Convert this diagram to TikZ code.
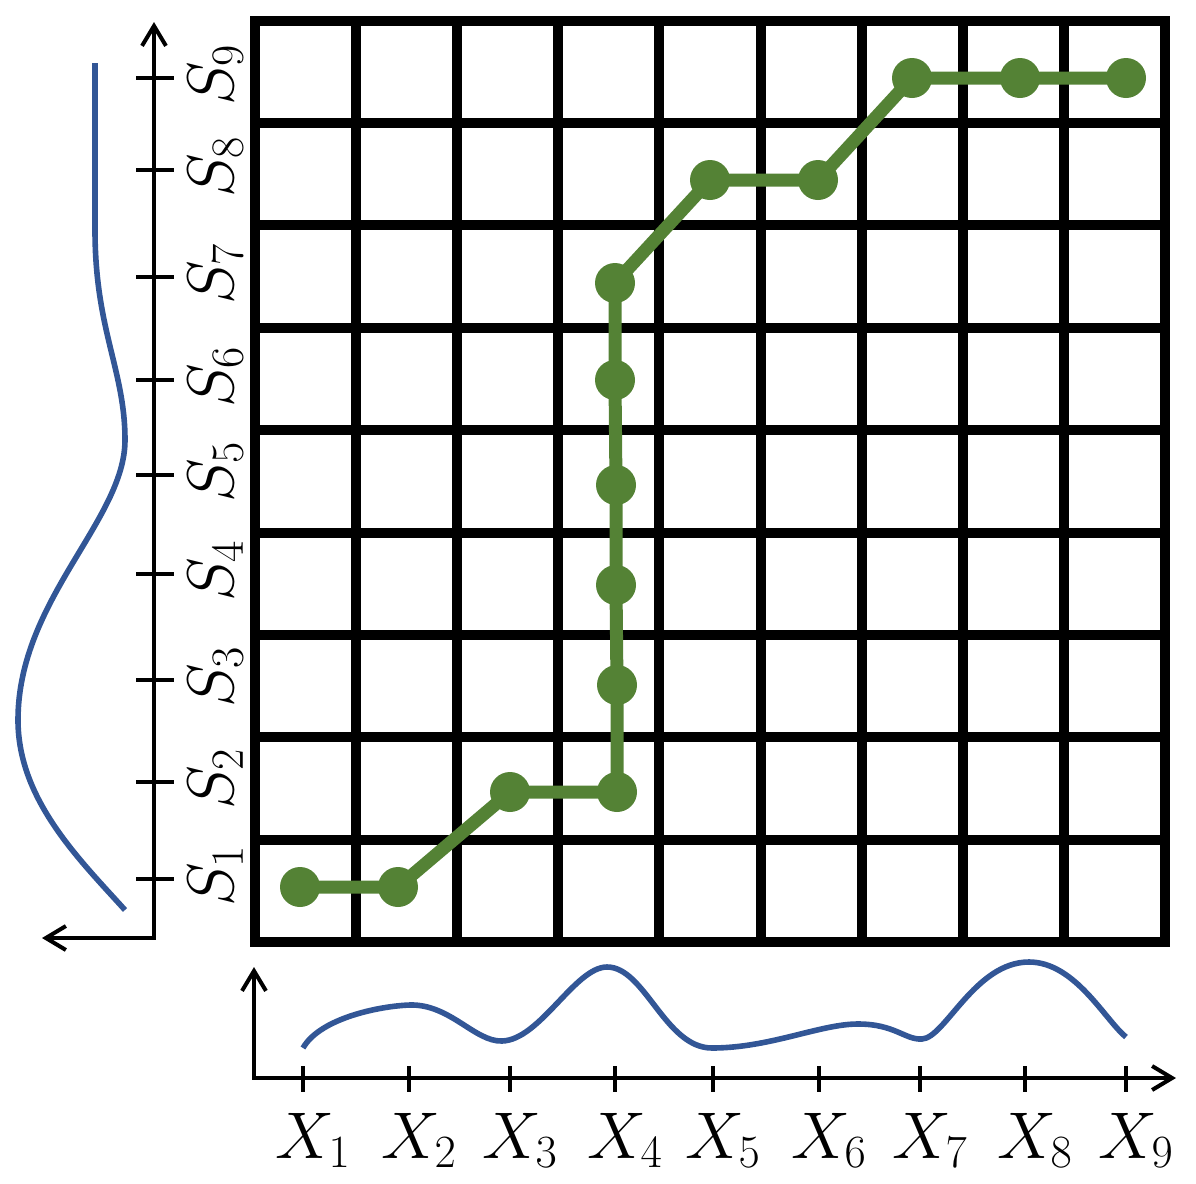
\RequirePackage{fix-cm}
\documentclass[tikz,border=0pt]{standalone}
\usetikzlibrary{arrows.meta}
\definecolor{dotgreen}{RGB}{84,130,53}
\definecolor{curveblue}{RGB}{50,86,150}
\begin{document}
\begin{tikzpicture}[x=0.5pt,y=-0.5pt,
  gridline/.style={line width=5pt},
  axisline/.style={line width=2pt,line join=miter},
  barb/.tip={Straight Barb[length=10pt,width=12pt,line width=2pt]},
  tickline/.style={line width=2pt},
  dot/.style={circle,fill=dotgreen,inner sep=0pt,minimum size=20pt},
  pathline/.style={dotgreen,line width=6.5pt,line join=round},
  density/.style={curveblue,line width=2.8pt},
  lab/.style={font=\fontsize{33}{40}\selectfont,inner sep=0pt,anchor=base}]
\useasboundingbox (0,0) rectangle (1196,1184);
% grid
\foreach \i in {1,...,8} {
  \draw[gridline] ({255+\i*101.1},20.5) -- ({255+\i*101.1},942);
  \draw[gridline] (255,{20.5+\i*102.4}) -- (1165,{20.5+\i*102.4});
}
\draw[gridline,line join=miter] (255,20.5) rectangle (1165,942);
% left axis
\coordinate (yo) at (154,938);
\coordinate (ytop) at (154,22);
\coordinate (yleft) at (42,938);
\draw[axisline,barb-barb] (yleft) -- (yo) -- (ytop);
\foreach \y/\n in {879/1,782/2,680/3,574/4,475/5,380/6,277/7,170/8,78/9} {
  \draw[tickline] (136,\y) -- (174,\y);
  \node[lab,rotate=90] (s\n) at (233,\y-3) {$S_{\n}$};
}
% bottom axis
\coordinate (xo) at (254,1078);
\coordinate (xtop) at (254,967);
\coordinate (xright) at (1176,1078);
\draw[axisline,barb-barb] (xtop) -- (xo) -- (xright);
\foreach \x/\n in {303/1,409/2,510/3,615/4,713/5,819/6,920/7,1025/8,1126/9} {
  \draw[tickline] (\x,1066) -- (\x,1092);
  \node[lab] (x\n) at (\x+10,1158) {$X_{\n}$};
}
% density curves
\draw[density] (95,63) -- (95,230)
  .. controls (95,330) and (125,370) .. (125,440)
  .. controls (125,520) and (18,600) .. (18,720)
  .. controls (18,800) and (80,860) .. (125,910);
\draw[density] (303,1048)
  .. controls (320,1018) and (380,1006) .. (410,1005)
  .. controls (450,1004) and (475,1042) .. (502,1041)
  .. controls (540,1040) and (575,967) .. (607,967)
  .. controls (645,967) and (665,1048) .. (712,1048)
  .. controls (770,1048) and (820,1024) .. (858,1024)
  .. controls (895,1024) and (905,1040) .. (922,1039)
  .. controls (945,1038) and (975,962) .. (1029,962)
  .. controls (1075,962) and (1105,1020) .. (1126,1037);
% warping path
\node[dot] (d1) at (300,887) {};
\node[dot] (d2) at (398,887) {};
\node[dot] (d3) at (510,792) {};
\node[dot] (d4) at (617,792) {};
\node[dot] (d5) at (617,685) {};
\node[dot] (d6) at (616,585) {};
\node[dot] (d7) at (616,485) {};
\node[dot] (d8) at (615,380) {};
\node[dot] (d9) at (615,283) {};
\node[dot] (d10) at (710,180) {};
\node[dot] (d11) at (818,180) {};
\node[dot] (d12) at (912,78) {};
\node[dot] (d13) at (1020,78) {};
\node[dot] (d14) at (1126,78) {};
\draw[pathline] (d1.center) -- (d2.center) -- (d3.center) -- (d4.center) -- (d5.center) -- (d6.center) -- (d7.center) -- (d8.center) -- (d9.center) -- (d10.center) -- (d11.center) -- (d12.center) -- (d13.center) -- (d14.center);
\end{tikzpicture}
\end{document}
